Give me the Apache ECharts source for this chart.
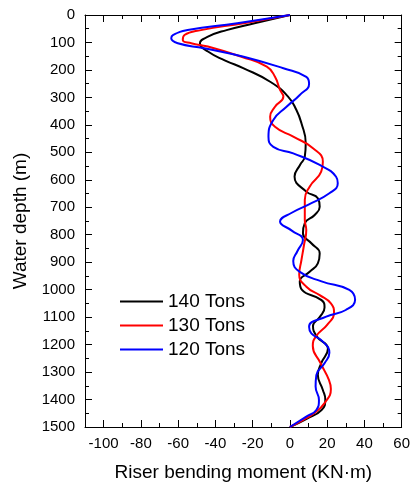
<!DOCTYPE html>
<html>
<head>
<meta charset="utf-8">
<script src="https://cdn.jsdelivr.net/npm/echarts@6/dist/echarts.min.js"></script>
<style>html,body{margin:0;padding:0;background:#fff}#c{width:413px;height:491px}</style>
</head>
<body>
<div id="c"></div>
<script>
var seriesNames = ['140 Tons', '130 Tons', '120 Tons'];
var seriesColors = ['#000000', '#ff0000', '#0000ff'];

var depth140 = [0, 30, 55, 79, 103, 133, 165, 194, 243, 297, 346, 394, 467, 516, 545, 588, 643, 667, 698, 728, 758, 795, 831, 868, 904, 935, 970, 1001, 1038, 1065, 1100, 1132, 1171, 1215, 1268, 1310, 1365, 1400, 1438, 1470, 1500];
var m140 = [0, -19, -34, -44, -48.3, -44, -35, -24.8, -10.6, -1, 3.5, 6.2, 8.5, 8, 5.5, 2.5, 8.8, 15, 16, 13.3, 8, 7, 11.5, 16, 15, 10.6, 5.3, 6.5, 17, 18.6, 16, 12.4, 14.5, 20.4, 16.8, 15, 17.7, 19, 17, 9, 0];

var depth130 = [0, 30, 55, 73, 91, 103, 115, 152, 188, 225, 273, 297, 334, 370, 407, 443, 485, 534, 570, 625, 673, 746, 783, 840, 892, 945, 990, 1020, 1050, 1085, 1128, 1170, 1205, 1268, 1329, 1362, 1413, 1450, 1475, 1500];
var m130 = [0, -24.8, -47.8, -56.6, -57.5, -53, -44, -26, -12.4, -8, -5.3, -3.5, -8, -10.6, -8, 1.8, 12.4, 17.7, 16.8, 10.6, 8, 8, 8.8, 7.5, 6.2, 5, 9, 16, 22, 23.7, 20, 14, 12.3, 16.5, 21, 22, 18.6, 13, 7, 0];

var depth120 = [0, 30, 55, 73, 85, 103, 121, 152, 194, 225, 250, 291, 334, 382, 443, 480, 504, 546, 589, 613, 649, 690, 720, 752, 785, 819, 860, 896, 935, 970, 1001, 1037, 1074, 1098, 1135, 1159, 1189, 1230, 1268, 1311, 1353, 1402, 1438, 1462, 1500];
var m120 = [0, -28.3, -54.9, -62.8, -63.7, -60.2, -46, -24.8, -3.5, 8.8, 10.3, 5.3, -1.8, -8.9, -11.5, -8.9, 1.8, 16, 24.8, 25.7, 21.2, 10, 1, -5.3, 1, 7, 4, 1.8, 5.3, 17, 31.9, 35, 30, 19.5, 10.3, 11.5, 17.7, 21.2, 18.6, 14.2, 13.8, 15.6, 14.2, 8.8, 0];

var xMajorTicks = [-100, -80, -60, -40, -20, 0, 20, 40, 60];

function pairs(xs, ys) { return xs.map(function (v, i) { return [v, ys[i]]; }); }
var allData = [pairs(m140, depth140), pairs(m130, depth130), pairs(m120, depth120)];

var FONT = '"Liberation Sans", Arial, sans-serif';
var lineStyleAxis = { color: '#000', width: 1 };
function plain(v) { return String(v); }

function xAx(pos, major, labels) {
  return {
    type: 'value', position: pos, min: -110, max: 60, interval: 10,
    axisLine: { show: !major, lineStyle: lineStyleAxis, onZero: false },
    axisTick: major ? { show: true, inside: true, length: 7, lineStyle: lineStyleAxis, customValues: xMajorTicks }
                    : { show: true, inside: true, length: 4, lineStyle: lineStyleAxis },
    axisLabel: labels ? { show: true, customValues: xMajorTicks, formatter: plain, color: '#000', fontSize: 15, fontFamily: FONT, margin: 9 } : { show: false },
    splitLine: { show: false }
  };
}
function yAx(pos, labels) {
  return {
    type: 'value', position: pos, min: 0, max: 1500, interval: 100, inverse: true,
    axisLine: { show: true, lineStyle: lineStyleAxis, onZero: false },
    axisTick: { show: true, inside: true, length: 7, lineStyle: lineStyleAxis },
    minorTick: { show: true, splitNumber: 2, length: 4, lineStyle: lineStyleAxis },
    axisLabel: labels ? { show: true, formatter: plain, color: '#000', fontSize: 15, fontFamily: FONT, margin: 10 } : { show: false },
    splitLine: { show: false },
    minorSplitLine: { show: false }
  };
}

var xAxes = [xAx('bottom', false, false), xAx('bottom', true, true), xAx('top', false, false), xAx('top', true, false)];
xAxes[1].name = 'Riser bending moment (KN·m)';
xAxes[1].nameLocation = 'middle';
xAxes[1].nameGap = 36;
xAxes[1].nameTextStyle = { color: '#000', fontSize: 19, fontFamily: FONT };

var yAxes = [yAx('left', true), yAx('right', false)];
yAxes[0].name = 'Water depth (m)';
yAxes[0].nameLocation = 'middle';
yAxes[0].nameGap = 48;
yAxes[0].nameTextStyle = { color: '#000', fontSize: 19, fontFamily: FONT };

var chart = echarts.init(document.getElementById('c'), null, { renderer: 'canvas' });
chart.setOption({
  animation: false,
  backgroundColor: '#fff',
  grid: { left: 85, right: 10, top: 15, bottom: 64, containLabel: false },
  legend: {
    orient: 'vertical', left: 115, top: 287, itemWidth: 43, itemHeight: 2, itemGap: 5,
    icon: 'rect',
    textStyle: { color: '#000', fontSize: 19, fontFamily: FONT, lineHeight: 19 },
    data: seriesNames
  },
  xAxis: xAxes,
  yAxis: yAxes,
  series: allData.map(function (d, i) {
    return {
      name: seriesNames[i], type: 'line', xAxisIndex: 0, yAxisIndex: 0,
      data: d, smooth: 0.5, showSymbol: false, symbol: 'none',
      lineStyle: { color: seriesColors[i], width: 2 },
      itemStyle: { color: seriesColors[i] }
    };
  })
});
</script>
</body>
</html>
